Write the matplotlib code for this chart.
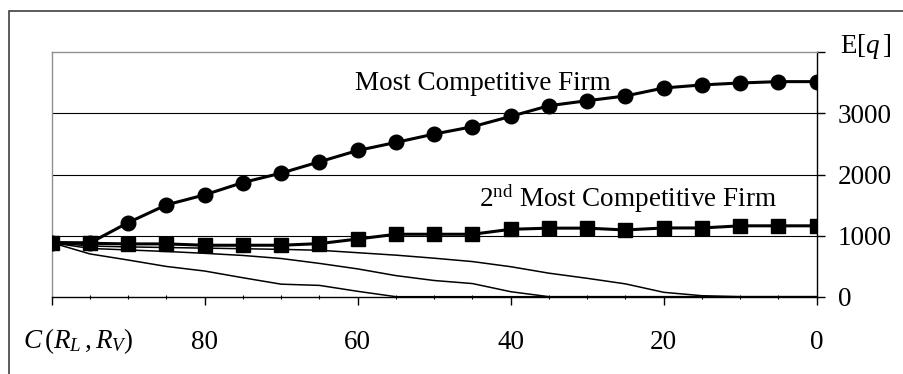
import matplotlib.pyplot as plt
from matplotlib.patches import Rectangle
from matplotlib.ticker import MultipleLocator

plt.rcParams['font.family'] = 'Liberation Serif'
plt.rcParams['mathtext.fontset'] = 'custom'
plt.rcParams['mathtext.rm'] = 'Liberation Serif'
plt.rcParams['mathtext.it'] = 'Liberation Serif:italic'

# cost C(R_L, R_V), plotted from 100 down to 0
cost = [100, 95, 90, 85, 80, 75, 70, 65, 60, 55, 50,
        45, 40, 35, 30, 25, 20, 15, 10, 5, 0]

# expected quantity per firm
most_comp = [884, 880, 1213, 1503, 1667, 1869, 2023, 2208, 2393, 2525, 2662,
             2782, 2951, 3126, 3208, 3285, 3416, 3466, 3498, 3520, 3520]
second_comp = [884, 874, 864, 864, 842, 842, 842, 869, 944, 1022, 1022,
               1022, 1103, 1122, 1122, 1092, 1125, 1125, 1160, 1160, 1160]
third_comp = [884, 830, 815, 805, 795, 785, 775, 760, 720, 680, 630,
              575, 491, 385, 301, 210, 72, 16, 0, 0, 0]
fourth_comp = [884, 790, 765, 740, 710, 675, 625, 545, 455, 345, 265,
               215, 82, 0, 0, 0, 0, 0, 0, 0, 0]
fifth_comp = [884, 700, 600, 495, 420, 310, 205, 185, 88, 0, 0,
              0, 0, 0, 0, 0, 0, 0, 0, 0, 0]

grid_levels = [1000, 2000, 3000]
y_ticks = [0, 1000, 2000, 3000, 4000]
y_labels = ['0', '1000', '2000', '3000', '']
x_ticks = [100, 80, 60, 40, 20, 0]
x_labels = ['', '80', '60', '40', '20', '0']

fs = 19.5

fig = plt.figure(figsize=(9.04, 3.74), dpi=100)

# outer chart frame, runs off the right and bottom edges
fig.patches.append(Rectangle((8.5 / 904, -0.1), 1.2, 1 - 11 / 374 + 0.1,
                             transform=fig.transFigure, fill=False,
                             edgecolor='#404040', lw=1.2))

ax = fig.add_axes([51.7 / 904, 1 - 296.7 / 374, 765 / 904, 244.4 / 374])

for g in grid_levels:
    ax.axhline(g, color='black', lw=0.8, zorder=1)

for s in (third_comp, fourth_comp, fifth_comp):
    ax.plot(cost, s, color='black', lw=1.1, zorder=2)

ax.plot(cost, most_comp, color='black', lw=2.2, marker='o', ms=10.5, zorder=3)
ax.plot(cost, second_comp, color='black', lw=2.2, marker='s', ms=9.5, zorder=4)

ax.set_xlim(100, 0)
ax.set_ylim(0, 4000)

ax.spines['top'].set_color('#909090')
ax.spines['left'].set_color('#909090')
ax.spines['right'].set_color('black')
ax.spines['bottom'].set_color('black')
for sp in ax.spines.values():
    sp.set_linewidth(1.0)

ax.yaxis.tick_right()
ax.set_yticks(y_ticks)
ax.set_yticklabels(y_labels)
ax.tick_params(axis='y', direction='out', length=6, width=1, pad=9, labelsize=fs)

ax.set_xticks(x_ticks)
ax.set_xticklabels(x_labels)
ax.xaxis.set_minor_locator(MultipleLocator(5))
ax.tick_params(axis='x', which='major', direction='out', length=6, width=1,
               pad=18, labelsize=fs)
ax.tick_params(axis='x', which='minor', direction='inout', length=3, width=0.8)

ax.text(60.4, 3383, 'Most Competitive Firm', fontsize=fs, ha='left',
        va='baseline')
ax.text(44.2, 1473, r'2$^{\mathrm{nd}}$ Most Competitive Firm', fontsize=fs,
        ha='left', va='baseline')

fig.text(840 / 904, 1 - 53.3 / 374, r'E[$q\,$]', fontsize=fs,
         ha='left', va='baseline')
fig.text(23 / 904, 1 - 348 / 374, r'$C\,(R_{L}\,,R_{V})$', fontsize=fs,
         ha='left', va='baseline')

fig.savefig('out.png', dpi=100)
